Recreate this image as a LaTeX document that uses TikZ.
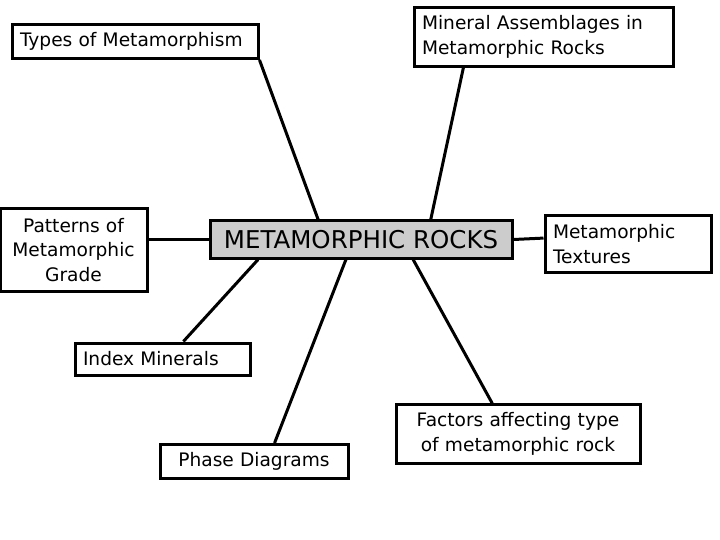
\documentclass[tikz,border=0pt]{standalone}
\usepackage{fontspec}
\setmainfont{DejaVu Sans}
\tikzset{
	TopicStyle/.style = {draw, line width=3pt, inner sep=8pt, font=\fontsize{18.6}{24.5}\selectfont},
	MainStyle/.style = {TopicStyle, fill=black!20, font=\fontsize{24.5}{28}\selectfont},
	EdgeStyle/.style = {line width=3pt}
}

\begin{document}
\begin{tikzpicture}[x=1pt,y=-1pt]
	\useasboundingbox (0,0) rectangle (720,540);
	% the topic in the middle
	\node[MainStyle, minimum width=302pt, minimum height=37pt] (rocks) at (361,239.5) {METAMORPHIC ROCKS};
	% the topics round it
	\node[TopicStyle, minimum width=246pt, minimum height=33pt, text width=230pt, align=left] (types) at (135,41.5) {Types of Metamorphism};
	\node[TopicStyle, minimum width=259pt, minimum height=56pt, text width=243pt, align=left] (assemb) at (543.5,37) {Mineral Assemblages in\\Metamorphic Rocks};
	\node[TopicStyle, minimum width=147pt, minimum height=82pt, text width=131pt, align=center] (grade) at (73.5,250) {Patterns of\\Metamorphic\\Grade};
	\node[TopicStyle, minimum width=166pt, minimum height=56pt, text width=150pt, align=left] (texture) at (628,244) {Metamorphic\\Textures};
	\node[TopicStyle, minimum width=175pt, minimum height=32pt, text width=159pt, align=left] (index) at (162.5,359) {Index Minerals};
	\node[TopicStyle, minimum width=188pt, minimum height=33pt, text width=172pt, align=center] (phase) at (254,461.5) {Phase Diagrams};
	\node[TopicStyle, minimum width=244pt, minimum height=58pt, text width=228pt, align=center] (factors) at (518,434) {Factors affecting type\\of metamorphic rock};
	% the spokes
	\draw[EdgeStyle] (types.south east) -- (rocks.155.7);
	\draw[EdgeStyle] (assemb.201.4) -- (rocks.16.4);
	\draw[EdgeStyle] (rocks.west) -- (rocks.west -| grade.east);
	\draw[EdgeStyle] (rocks.east) -- (texture.176);
	\draw[EdgeStyle] (rocks.-169.3) -- (index.40.9);
	\draw[EdgeStyle] (rocks.-127.6) -- (phase.42.5);
	\draw[EdgeStyle] (rocks.-21.7) -- (factors.130.6);
\end{tikzpicture}
\end{document}
